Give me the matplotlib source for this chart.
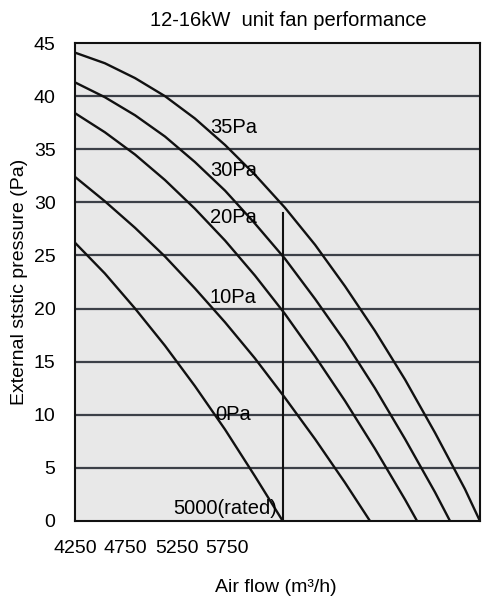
import matplotlib
matplotlib.use("Agg")
import matplotlib.pyplot as plt

plt.rcParams["font.family"] = ["Liberation Sans", "DejaVu Sans"]

# fan curves: air flow (m3/h) vs external static pressure (Pa)
flow_35pa = [4250, 4358, 4467, 4575, 4683, 4792, 4900, 5008, 5117, 5225,
             5333, 5442, 5550, 5658, 5712]
pres_35pa = [44.1, 43.1, 41.7, 40.0, 37.9, 35.4, 32.6, 29.5, 26.0, 22.1,
             17.9, 13.3, 8.3, 3.0, 0.0]

flow_30pa = [4250, 4358, 4467, 4575, 4683, 4792, 4900, 5008, 5117, 5225,
             5333, 5442, 5550, 5604]
pres_30pa = [41.3, 39.9, 38.2, 36.2, 33.8, 31.1, 28.0, 24.7, 20.9, 16.9,
             12.5, 7.7, 2.7, 0.0]

flow_20pa = [4250, 4358, 4467, 4575, 4683, 4792, 4900, 5008, 5117, 5225,
             5333, 5442, 5485]
pres_20pa = [38.4, 36.6, 34.5, 32.1, 29.4, 26.4, 23.1, 19.5, 15.5, 11.3,
             6.8, 2.0, 0.0]

flow_10pa = [4250, 4358, 4467, 4575, 4683, 4792, 4900, 5008, 5117, 5225,
             5315]
pres_10pa = [32.4, 30.1, 27.6, 24.9, 21.9, 18.7, 15.3, 11.6, 7.7, 3.6, 0.0]

flow_0pa = [4250, 4358, 4467, 4575, 4683, 4792, 4900, 5000]
pres_0pa = [26.2, 23.3, 20.0, 16.5, 12.7, 8.6, 4.2, 0.0]

curve_names = ["35Pa", "30Pa", "20Pa", "10Pa", "0Pa"]
label_pres = [37.0, 33.0, 28.6, 21.0, 10.0]

rated_flow = 5000
rated_pres = 29.0

y_ticks = [0, 5, 10, 15, 20, 25, 30, 35, 40, 45]
x_tick_labels = ["4250", "4750", "5250", "5750"]


def main():
    fig = plt.figure(figsize=(5.03, 5.98), dpi=100)
    ax = fig.add_axes([0.149, 0.129, 0.805, 0.799])
    ax.set_facecolor("#e8e8e8")

    ax.set_xlim(4250, 5712)
    ax.set_ylim(0, 45)

    for y in y_ticks[1:-1]:
        ax.axhline(y, color="#3c4048", lw=1.6, zorder=1)

    flows = [flow_35pa, flow_30pa, flow_20pa, flow_10pa, flow_0pa]
    pressures = [pres_35pa, pres_30pa, pres_20pa, pres_10pa, pres_0pa]
    for fl, pr in zip(flows, pressures):
        ax.plot(fl, pr, color="#111111", lw=1.7, zorder=3,
                solid_joinstyle="round")

    ax.plot([rated_flow, rated_flow], [0, rated_pres],
            color="#111111", lw=1.5, zorder=3)

    for name, p in zip(curve_names, label_pres):
        x0 = 4737 if name != "0Pa" else 4755
        ax.text(x0, p, name, fontsize=14.5, va="center", ha="left", zorder=4)

    ax.text(4980, 1.2, "5000(rated)", fontsize=14.5, va="center",
            ha="right", zorder=4)

    ax.set_yticks(y_ticks)
    ax.tick_params(axis="y", length=0, labelsize=14, pad=14)

    ax.set_xticks([4250, 4432, 4618, 4798], x_tick_labels)
    ax.tick_params(axis="x", length=0, labelsize=14, pad=14)

    for sp in ax.spines.values():
        sp.set_linewidth(1.5)
        sp.set_color("#111111")

    ax.set_ylabel("External ststic pressure (Pa)", fontsize=14, labelpad=4)

    fig.text(276 / 503, 1 - 587 / 598, "Air flow (m³/h)",
             fontsize=14, ha="center", va="center")

    fig.text(288 / 503, 1 - 20 / 598, "12-16kW  unit fan performance",
             fontsize=14.5, ha="center", va="center")

    fig.savefig("out.png", dpi=100)
    plt.close(fig)


if __name__ == "__main__":
    main()
